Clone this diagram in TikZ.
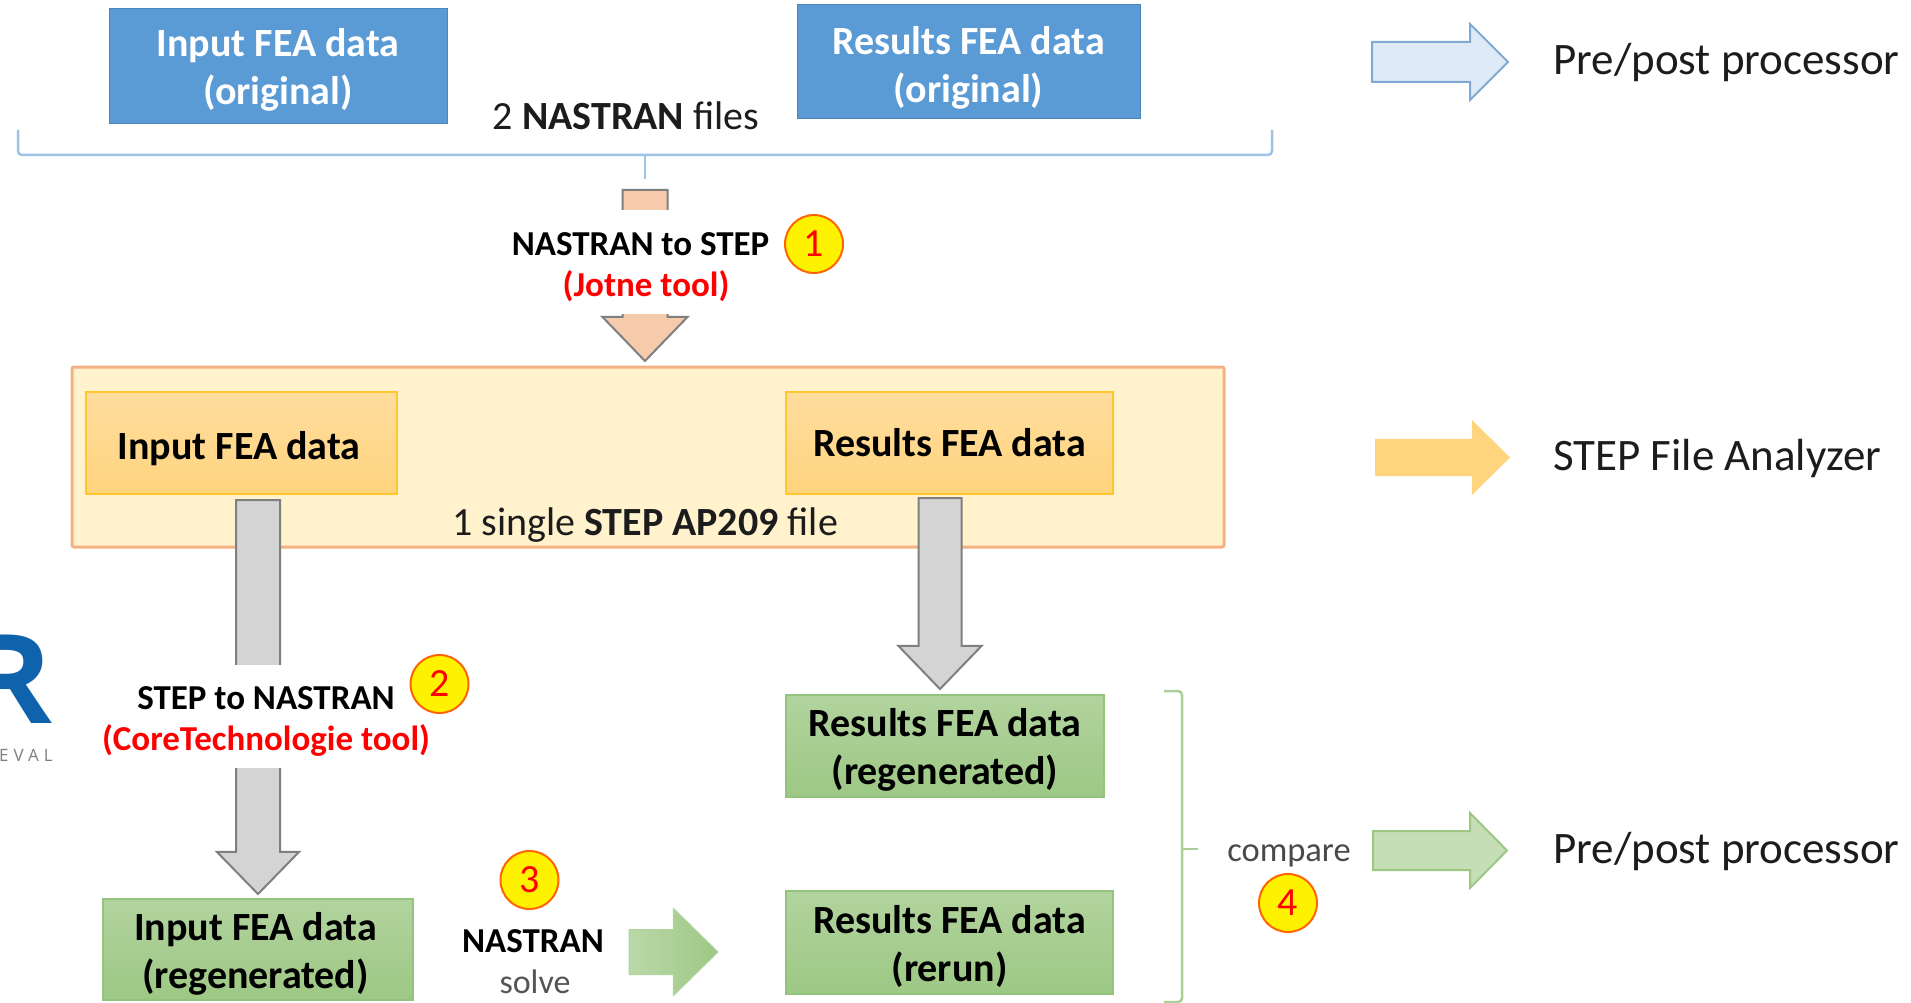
\documentclass[tikz,border=0pt]{standalone}
\usepackage{fontspec}
\setmainfont{Carlito}
\newfontfamily\logofont{Open Sans}
\newfontfamily\logospaced[LetterSpace=30]{Open Sans}
\usetikzlibrary{shapes.arrows}
\definecolor{bluefill}{HTML}{5B9BD5}
\definecolor{blueedge}{HTML}{4A86C0}
\definecolor{lightblue}{HTML}{9DC3E6}
\definecolor{paleblue}{HTML}{DEEBF7}
\definecolor{peach}{HTML}{F6CBAC}
\definecolor{orangeedge}{HTML}{F4B183}
\definecolor{paleyellow}{HTML}{FFF2CC}
\definecolor{goldtop}{HTML}{FFDD9E}
\definecolor{goldbot}{HTML}{FFD47E}
\definecolor{goldedge}{HTML}{FFC72C}
\definecolor{greentop}{HTML}{B2D39E}
\definecolor{greenbot}{HTML}{9DC884}
\definecolor{greenedge}{HTML}{93C47D}
\definecolor{greyfill}{HTML}{D4D4D4}
\definecolor{greyedge}{HTML}{7F7F7F}
\definecolor{logoblue}{HTML}{0F62AC}
\definecolor{inktext}{HTML}{1C1C1C}
\newcommand{\lift}[1]{\rule{0pt}{#1pt}}
\tikzset{
  boxtext/.style={inner sep=0pt,outer sep=0pt,align=center,font=\fontsize{40}{48}\selectfont\bfseries},
  bluebox/.style={rectangle,boxtext,draw=blueedge,line width=1pt,fill=bluefill,text=white},
  goldbox/.style={rectangle,boxtext,draw=goldedge,line width=2pt,top color=goldtop,bottom color=goldbot,text=black},
  greenbox/.style={rectangle,boxtext,draw=greenedge,line width=2pt,top color=greentop,bottom color=greenbot,text=black},
  container/.style={rectangle,draw=orangeedge,line width=3pt,fill=paleyellow,rounded corners=2pt,inner sep=0pt,outer sep=0pt},
  numbadge/.style={circle,draw=orange!80!red,line width=2pt,fill=yellow,text=red,minimum size=58pt,inner sep=0pt,font=\fontsize{40}{40}\selectfont},
  caption/.style={inner sep=0pt,text=inktext,font=\fontsize{40}{46}\selectfont},
  toollabel/.style={fill=white,inner sep=0pt,align=center,text=black,font=\fontsize{35}{42}\selectfont\bfseries},
  sidelabel/.style={anchor=west,inner sep=0pt,text=inktext,font=\fontsize{45}{52}\selectfont},
  bracket/.style={line width=2.5pt,rounded corners=4pt},
  peachstyle/.style={draw=greyedge,line width=2pt,fill=peach},
  greystyle/.style={draw=greyedge,line width=2pt,fill=greyfill},
}
% name, tip, length, head width, shaft width, head length, rotation, style
\newcommand{\blockarrow}[8]{%
  \node[single arrow,anchor=tip,shape border rotate=#7,inner sep={(#5)/2*1pt},outer sep=0pt,
    minimum height=#3pt,minimum width=#4pt,
    single arrow head extend={(#4-#5)/2*1pt},single arrow head indent=0pt,
    single arrow tip angle={2*atan(#4/(2*#6))},#8] (#1) at (#2) {};}
\begin{document}
\begin{tikzpicture}[x=1pt,y=-1pt]
\useasboundingbox (0,0) rectangle (1911,1003);
\fill[white] (0,0) rectangle (1911,1003);
\clip (0,0) rectangle (1911,1003);

% top row
\node[bluebox,minimum width=338pt,minimum height=115pt] (inorig) at (278,66.5) {\lift{34}Input FEA data\\(original)};
\node[bluebox,minimum width=343pt,minimum height=114pt] (resorig) at (968.5,62) {\lift{39}Results FEA data\\(original)};
\node[caption] (twofiles) at (626,116) {2 \textbf{NASTRAN} files};
\coordinate (bl) at (18,130);
\coordinate (blc) at (18,155);
\coordinate (brc) at (1272,155);
\coordinate (br) at (1272,130);
\coordinate (bm) at (645,155);
\coordinate (bt) at (645,179);
\draw[bracket,draw=lightblue] (bl) -- (blc) -- (brc) -- (br);
\draw[line width=2.5pt,draw=lightblue] (bm) -- (bt);

% peach arrow
\blockarrow{peacharrow}{645,361}{171}{83}{43}{43}{270}{peachstyle}
\node[toollabel,minimum width=262pt,minimum height=104pt] (ntos) at (643,262) {\lift{33.5}NASTRAN to STEP\hspace*{5pt}\\[-1pt]\hspace*{6pt}\textcolor{red}{(Jotne tool)}};
\node[numbadge] (n1) at (814,244) {1};

% container
\node[container,minimum width=1152pt,minimum height=180pt] (step) at (648,457) {};
\node[goldbox,minimum width=311pt,minimum height=102pt] (ingold) at (241.5,443) {\lift{39}Input FEA data\hspace*{5pt}};
\node[goldbox,minimum width=327pt,minimum height=102pt] (resgold) at (949.5,443) {Results FEA data};
\node[caption] (single) at (645,525) {1 single \textbf{STEP AP209} file};

% grey arrows
\blockarrow{greyleft}{258,894}{394}{80}{42}{41}{270}{greystyle}
\blockarrow{greyright}{940,689}{191}{81}{41}{42}{270}{greystyle}
\node[toollabel,minimum width=340pt,minimum height=103pt] (ston) at (266,716) {\lift{33}STEP to NASTRAN\\[-1pt]\textcolor{red}{(CoreTechnologie tool)}};
\node[numbadge] (n2) at (439.5,684) {2};

% green boxes
\node[greenbox,minimum width=310pt,minimum height=101pt] (inregen) at (258,949.5) {\lift{36.5}Input FEA data\hspace*{5pt}\\(regenerated)\hspace*{5pt}};
\node[greenbox,minimum width=318pt,minimum height=102pt] (resregen) at (945,746) {\lift{36.5}Results FEA data\\(regenerated)};
\node[greenbox,minimum width=327pt,minimum height=103pt] (resrerun) at (949.5,942.5) {\lift{36.5}Results FEA data\\(rerun)};

% NASTRAN solve
\node[numbadge] (n3) at (529.5,880) {3};
\node[inner sep=0pt,text=black,font=\fontsize{35}{40}\selectfont\bfseries] (nsolve) at (533,941) {NASTRAN};
\node[inner sep=0pt,text=inktext!75,font=\fontsize{34}{38}\selectfont] (solve) at (535,982) {solve};
\blockarrow{solvearrow}{718,952}{89}{86}{44}{44}{0}{draw=greentop,line width=1pt,left color=greenbot!70!white,right color=greenbot}

% compare brace
\coordinate (gt) at (1164,691);
\coordinate (gtc) at (1182,691);
\coordinate (gbc) at (1182,1002);
\coordinate (gb) at (1164,1002);
\coordinate (gm) at (1182,849);
\coordinate (gtip) at (1198,849);
\draw[bracket,draw=greenedge!80!white] (gt) -- (gtc) -- (gbc) -- (gb);
\draw[line width=2.5pt,draw=greenedge!80!white] (gm) -- (gtip);
\node[inner sep=0pt,text=inktext!80,font=\fontsize{34.5}{40}\selectfont] (compare) at (1289,856) {compare};
\node[numbadge] (n4) at (1288,903) {4};

% side arrows
\blockarrow{sideblue}{1508,62}{136}{74}{38}{37}{0}{draw=blueedge!70!white,line width=2pt,fill=paleblue}
\blockarrow{sidegold}{1510,457.5}{135}{75}{37}{38}{0}{fill=goldbot}
\blockarrow{sidegreen}{1507,850.5}{134}{73}{37}{36}{0}{draw=greenbot,line width=2pt,fill=greentop!75!white}
\node[sidelabel] (pp1) at (1553,63) {Pre/post processor};
\node[sidelabel] (sfa) at (1553,458) {STEP File Analyzer};
\node[sidelabel] (pp2) at (1553,851.5) {Pre/post processor};

% logo fragment at the left edge
\node[anchor=base east,inner sep=0pt,text=logoblue,font=\fontsize{124}{124}\logofont\bfseries] (logor) at (53,723) {R};
\node[anchor=east,inner sep=0pt,text=greyedge,font=\fontsize{17}{20}\logospaced] (logot) at (53,755) {EVAL};
\end{tikzpicture}
\end{document}
